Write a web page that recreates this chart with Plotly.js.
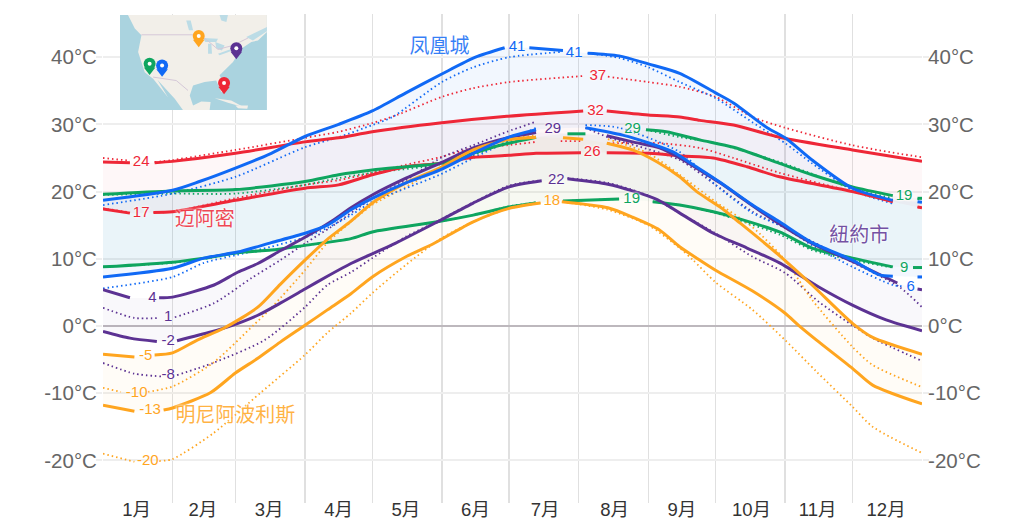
<!DOCTYPE html>
<html><head><meta charset="utf-8">
<script src="https://cdn.plot.ly/plotly-3.0.1.min.js"></script>
<style>html,body{margin:0;padding:0;background:#fff}</style></head>
<body><div id="chart" style="width:1024px;height:526px"></div>
<script>
const monthStarts=[0,31,59,90,120,151,181,212,243,273,304,334,365];
const monthMids=[15,44.5,74,105,135,166,197,228,258,289,318.5,349];
const monthLabels=['1月','2月','3月','4月','5月','6月','7月','8月','9月','10月','11月','12月'];
const tempTicks=[-20,-10,0,10,20,30,40];
const tempLabels=['-20°C','-10°C','0°C','10°C','20°C','30°C','40°C'];

const RED='#ee2737',GREEN='#0ea55f',BLUE='#1069f5',PURPLE='#5c3293',ORANGE='#ffa51f';

// Miami
const miaHighD=[0,12,null,23,31,59,90,105,120,150,180,214,null,224.5,243,257,266,281,301.5,334,365];
const miaHighV=[24.4,24.3,null,24.3,24.5,25.7,27.4,28,28.9,30.2,31.2,32,null,32,31.4,31.1,30.6,29.9,28.1,26.2,24.5];
const miaLowD=[0,12,null,22.5,31,59,90,105,120,135,150,165,181,193,213,null,224.5,243.6,258,272,287,301.5,334,352,null,363,365];
const miaLowV=[17.4,16.8,null,16.9,17,18.7,20.5,21,22.5,23.7,24.2,25.1,25.4,25.7,25.8,null,25.8,25.7,25.3,25,23.7,22.2,20,18.5,null,17.7,17.6];
const miaHighDotD=[0,12,null,23,31,59,90,105,120,131,151,165,181,214,null,225,243,257,273,289.5,304,334,365];
const miaHighDotV=[25,24.6,null,24.4,24.7,26.2,28,28.9,30.2,31.4,34.1,35.4,36.3,37.2,null,37.1,36.3,35.6,34.1,31.1,29.5,26.9,25.1];
const miaLowDotD=[0,12,null,22.5,31,59,90,105,120,135,150,165,180,193,null,204,214,null,225,248,266,281,301.5,334,352,null,363,365];
const miaLowDotV=[17.5,16.9,null,16.9,17,19,21,21.7,22.8,24,25.1,26.5,26.9,27.4,null,27.5,27.5,null,27.2,27.2,26.5,25,22.8,20,18.5,null,17.7,17.6];

// Los Angeles
const laHighD=[0,31,59,90,105,120,135,150,165,177,193,null,207,215,null,242,251,266,281,301.5,316,334,352,null,363,365];
const laHighV=[19.6,20.1,20.3,21.5,22.5,23.2,23.7,24.2,25.7,26.9,28.1,null,28.6,28.6,null,29.2,28.9,27.7,26.6,24.2,22.5,20.7,19.4,null,19,19];
const laLowD=[0,31,45,60,75,90,110.5,120,149,165,181,193,null,205,230,null,245,257,272,281,301.5,316,334,352,null,361,365];
const laLowV=[8.8,9.5,10.1,10.9,11.3,12,13,14,15.5,16.5,17.7,18.3,null,18.6,18.9,null,18.5,18,17,16.2,14,11.6,10.1,8.8,null,8.7,8.7];
const laHighDotD=[0,31,59,90,105,120,150,165,181,193,null,242,257,272,284,301.5,334,352,null,363,365];
const laHighDotV=[19.5,19.7,19.7,21,22,22.8,24,25.4,27.5,28.1,null,29.2,28.1,27.3,26.2,24.4,20.5,19,null,18.9,18.9];
const laLowDotD=[0,31,45,60,75,90,110.5,120,149,165,181,193,null,205,230,null,245,257,272,281,301.5,316,334,352,null,361,365];
const laLowDotV=[8.8,9.4,10,10.8,11.3,12,13,14,15.5,16.5,17.8,18.4,null,18.6,18.9,null,18.5,18,16.9,16,13.6,11.3,9.8,8.7,null,8.7,8.7];

// Phoenix
const phxHighD=[0,31,43,59,75,90,105,120,135,151,166,179,null,190,205,null,216,230,243,257,273,281,296,304,316,334,352,null,363,365];
const phxHighV=[18.7,20.2,21.5,23.5,25.7,28.2,30,32,34.7,37.5,40,41.4,null,41.4,41,null,40.6,40.2,39,37.6,34.7,33.2,29.5,28,24.7,20.5,18.7,null,18.5,18.4];
const phxLowD=[0,31,45,60,75,90,100,110.5,120,135,150,165,180,193,null,215,231.6,243.6,254,263,275,289.5,301.5,316,334,346,352,null,363,365];
const phxLowV=[7.3,8.6,10.1,11,12.4,13.8,15,17.3,19,21.3,23.2,25.7,28,29.2,null,29.5,28.4,27.2,25.9,24,21.4,18,15.5,12.4,9.8,7.6,7.4,null,7.3,7.3];
const phxHighDotD=[0,31,59,90,105,120,129,151,165,181,205,null,216,230,243,257,273,289.5,304,316,334,352,null,365];
const phxHighDotV=[18,19.7,22.2,26.6,28.1,29.9,31.1,36.3,38.5,40,40.8,null,40.6,39.9,38.5,36.3,33.9,30.3,27.2,24.2,20.2,18.2,null,18.2];
const phxLowDotD=[0,31,45,60,75,90,100,110.5,120,135,150,165,180,193,null,215,230,257,273,289.5,304,316,334,352,357];
const phxLowDotV=[5.6,7.3,9.4,10.6,11.8,13.2,14.6,16.5,18.5,20.5,22.5,25,27.4,29.5,null,29.9,29.5,25.9,21,16.8,14.6,12,8.8,6.1,5.9];

// New York
const nyHighD=[0,12,null,25,31,49.5,60,69,79,90,101.5,110.5,120,135,150,165,180,193,null,224.5,236,248,257,266,275,287,300,316,334,354,null,363,365];
const nyHighV=[5.4,4.2,null,4.2,4.3,6.1,8,9.3,11.2,13.2,15.5,17.6,19.5,22,24.2,26.5,28,28.8,null,28.3,27.4,26.5,25,23.2,21.3,18.5,15.5,12.3,9.6,6.4,null,5.5,5.4];
const nyLowD=[0,12,24,null,33,48,56,69,79,90,100,110.5,129,149,165,181,195.5,null,207,225,236,247,260,272,287,301.5,319,334,349,365];
const nyLowV=[-0.8,-1.8,-2.3,null,-2.2,-0.9,-0.1,1.6,3.4,5.5,7.4,9.3,12.1,15.5,18.3,20.7,21.6,null,21.9,21.1,20.1,18.8,16.2,13.8,11.6,9.4,5.8,3.1,0.9,-0.7];
const nyHighDotD=[0,14,25,null,32,49.5,66,79,91,101.5,120,135,151,165,180,193,null,215,225,257,273,289.5,304,334,355,365];
const nyHighDotV=[2.7,1.2,1.2,null,1.3,3.4,7.1,9.8,12.5,14.7,19,21.7,25.1,26.9,28.9,30.4,null,29.5,28.1,24.7,21,17,14.6,9.5,5.8,2.8];
const nyLowDotD=[0,14,26,null,33,49,72,90,100,110.5,120,135,149,165,181,195.5,null,207,225,243,257,273,289.5,304,319,334,343,365];
const nyLowDotV=[-5.5,-7.1,-7.5,null,-7.3,-5.5,-2.1,2.8,6.1,8,10.1,13.3,15.6,18.4,20.9,21.7,null,22,21.3,19.4,16.8,13.8,10.3,7.9,3.6,0.1,-1.8,-5.2];

// Minneapolis
const mnHighD=[0,14,null,23,31,42,54,69,79,90,100,110.5,120,135,150,165,180,193,null,205,214,null,224.5,236,247,257,264.6,275,284,300,316,334,343,365];
const mnHighV=[-4.2,-4.6,null,-4.3,-4,-2.1,-0.3,2.8,6.2,9.8,12.9,15.6,18.3,21.3,23.5,26.2,27.7,28.1,null,28,27.8,null,27.2,26.2,24.4,22.2,20,17.7,15.3,10.9,6.1,0.4,-1.7,-4.2];
const mnLowD=[0,14,null,27,31,48,59,69,79,90,100,110.5,120,135,147,165,181,195,null,204.5,225,236,248,257,264.6,273,289.5,304,310,318,334,343,365];
const mnLowV=[-11.8,-12.7,null,-12.5,-12.2,-9.9,-7,-4.8,-2.4,0.1,2.4,4.8,7.3,10.3,12.2,15.5,17.5,18.3,null,18.5,17.6,16.2,14.3,11.8,10.1,8.3,5.2,1.9,0.1,-2.1,-6.3,-8.8,-11.6];
const mnHighDotD=[0,8,null,20,31,49,67,75,90,100,110.5,120,135,150,165,180,193,null,225,243,257,273,289.5,304,316,334,343,365];
const mnHighDotV=[-9.2,-9.8,null,-9.8,-9,-5.5,0.1,2.7,8.3,12.4,15.5,18,20.7,23.5,25.9,27.7,28.4,null,27.8,25.7,22.5,18.5,14.7,9.8,3.9,-3.1,-5.8,-9.1];
const mnLowDotD=[0,14,null,25,31,49,70,90,100,110.5,120,135,151,165,181,195,null,204.5,225,243,257,263,273,289.5,304,318,334,343,365];
const mnLowDotV=[-19,-20.2,null,-20.1,-19.8,-16,-10,-4.3,-1,1.9,4.9,9.1,13.1,15.5,17.5,18.3,null,18.5,17.3,15,11.6,9.8,6.5,2.4,-2.1,-6.8,-12,-15,-18.9];

// value labels
const miaLabelD=[17,17,220.5,219.5,218], miaLabelV=[24.3,16.8,37.2,32,25.9], miaLabelT=['24','17','37','32','26'];
const laLabelD=[236,235.6,357,357], laLabelV=[29.3,18.9,19.3,8.6], laLabelT=['29','19','19','9'];
const phxLabelD=[184.5,210,360], phxLabelV=[41.5,40.6,5.7], phxLabelT=['41','41','6'];
const nyLabelD=[22,29,29,29,200.5,202], nyLabelV=[4.2,1.3,-2.2,-7.4,29.3,21.7], nyLabelT=['4','1','-2','-8','29','22'];
const mnLabelD=[19,15,21,20,200], mnLabelV=[-4.5,-10,-12.6,-20.2,18.5], mnLabelT=['-5','-10','-13','-20','18'];

const cityNames=['凤凰城','迈阿密','明尼阿波利斯','紐約市'];
const cityNameD=[150,45.4,59,337];
const cityNameV=[41.4,15.6,-13.5,13.2];
const cityNameC=[BLUE,RED,ORANGE,PURPLE];

// locator map (longitude / latitude)
const mapLon=[-133.6,-58.2], mapLat=[17,55.4];
const landLon=[-129.5,-126,-122.6,-124.3,-120.9,-116.6,-109,-114.4,-105.5,-101.3,-87.6,-87.1,-91.9,-96.1,-97.8,-96.1,-90.2,-84.2,-81.6,-79,-82.5,-75.6,-71.4,-66.2,-62.8,-58.2,-58.2];
const landLat=[55.4,49.9,47.2,40.4,32.3,29.6,22.2,29.2,21.5,17,17,20.2,20.4,18.8,22.9,26.9,28.3,28.9,24.2,25.3,31,36.4,41.8,44.5,45.1,48.5,55.4];
const cubaLon=[-85,-76.5,-70,-78.2], cubaLat=[21.8,20.8,18.1,19.9];
const haitiLon=[-74.4,-67.9,-68.3,-73], haitiLat=[18.8,18.8,17.5,17.7];
const lakeLon=[[-91,-83.3,-84.2,-89.8],[-88.4,-86.7,-86.4,-88.4],[-84.7,-79.9,-81.3,-84.2],[-83.3,-77.3,-76.8,-82.5],[-99.6,-97.3,-96.1,-98.2],[-82.5,-78.2,-79,-81.6],[-68.8,-58.2,-58.2,-65.4]];
const lakeLat=[[46.1,45.8,44.5,44.5],[43.8,43.8,39.7,39.7],[44.5,43.1,41.1,42],[39.7,41.5,40.7,39.1],[53.2,53.2,49.2,49.2],[55.4,55.4,52.6,53.2],[46.5,50.5,48.8,45.1]];
const borderLon=[[-122.6,-95.6,-89.8,-83.3,-75.6,-67.9],[-116.6,-111.5,-104.7,-98.7]];
const borderLat=[[47.4,47.4,45.8,41.5,43.1,46.1],[30.3,29.6,28.9,24.9]];
const pinLon=[-93.2,-73.9,-118.4,-112,-80.2];
const pinLat=[46.9,42,35.7,35,27.9];
const pinTipLat=[44.4,39.5,33.2,32.5,25.4];
const pinColors=[ORANGE,PURPLE,GREEN,BLUE,RED];

function rgba(h,a){const n=parseInt(h.slice(1),16);return `rgba(${n>>16},${(n>>8)&255},${n&255},${a})`;}
const traces=[];
function band(lD,lV,hD,hV,c,a){
  const common={mode:'lines',connectgaps:true,hoverinfo:'skip',showlegend:false};
  traces.push({...common,x:lD,y:lV,line:{width:0,shape:'spline',smoothing:0.5}});
  traces.push({...common,x:hD,y:hV,line:{width:0,shape:'spline',smoothing:0.5},fill:'tonexty',fillcolor:rgba(c,a)});
}
function line(d,v,c,dotted){
  traces.push({x:d,y:v,mode:'lines',hoverinfo:'skip',showlegend:false,
    line:{color:c,width:dotted?1.8:3,dash:dotted?'1.5px,3px':'solid',shape:'spline',smoothing:0.7}});
}
function labels(d,v,t,c,size){
  traces.push({x:d,y:v,text:t,mode:'text',textposition:'middle center',cliponaxis:false,hoverinfo:'skip',showlegend:false,
    textfont:{color:c,size:size,family:'"Liberation Sans","Noto Sans CJK SC",sans-serif',shadow:'0 0 3px #fff, 0 0 3px #fff'}});
}
band(phxLowD,phxLowV,phxHighD,phxHighV,BLUE,0.055);
band(laLowD,laLowV,laHighD,laHighV,GREEN,0.03);
band(miaLowD,miaLowV,miaHighD,miaHighV,RED,0.035);
band(nyLowD,nyLowV,nyHighD,nyHighV,PURPLE,0.035);
band(mnLowD,mnLowV,mnHighD,mnHighV,ORANGE,0.035);
[[miaHighDotD,miaHighDotV,RED],[miaLowDotD,miaLowDotV,RED],[laHighDotD,laHighDotV,GREEN],[laLowDotD,laLowDotV,GREEN],
 [nyHighDotD,nyHighDotV,PURPLE],[nyLowDotD,nyLowDotV,PURPLE],[mnHighDotD,mnHighDotV,ORANGE],[mnLowDotD,mnLowDotV,ORANGE],
 [phxHighDotD,phxHighDotV,BLUE],[phxLowDotD,phxLowDotV,BLUE]].forEach(s=>line(s[0],s[1],s[2],true));
[[miaHighD,miaHighV,RED],[miaLowD,miaLowV,RED],[laHighD,laHighV,GREEN],[laLowD,laLowV,GREEN],
 [nyHighD,nyHighV,PURPLE],[nyLowD,nyLowV,PURPLE],[mnHighD,mnHighV,ORANGE],[mnLowD,mnLowV,ORANGE],
 [phxHighD,phxHighV,BLUE],[phxLowD,phxLowV,BLUE]].forEach(s=>line(s[0],s[1],s[2],false));
labels(miaLabelD,miaLabelV,miaLabelT,RED,15);
labels(laLabelD,laLabelV,laLabelT,GREEN,15);
labels(phxLabelD,phxLabelV,phxLabelT,BLUE,15);
labels(nyLabelD,nyLabelV,nyLabelT,PURPLE,15);
labels(mnLabelD,mnLabelV,mnLabelT,ORANGE,15);
cityNames.forEach((n,i)=>labels([cityNameD[i]],[cityNameV[i]],[n],rgba(cityNameC[i],0.85),20));
// right-hand axis
traces.push({x:[0,365],y:[0,0],yaxis:'y2',mode:'lines',line:{width:0},hoverinfo:'skip',showlegend:false});
// locator map
const onMap={xaxis:'x3',yaxis:'y3',hoverinfo:'skip',showlegend:false};
traces.push({...onMap,x:[mapLon[0],mapLon[1],mapLon[1],mapLon[0]],y:[mapLat[0],mapLat[0],mapLat[1],mapLat[1]],fill:'toself',fillcolor:'#aad3df',mode:'none'});
traces.push({...onMap,x:landLon,y:landLat,fill:'toself',fillcolor:'#f2efe9',mode:'none'});
traces.push({...onMap,x:cubaLon,y:cubaLat,fill:'toself',fillcolor:'#f2efe9',mode:'none'});
traces.push({...onMap,x:haitiLon,y:haitiLat,fill:'toself',fillcolor:'#f2efe9',mode:'none'});
lakeLon.forEach((l,i)=>traces.push({...onMap,x:l,y:lakeLat[i],fill:'toself',fillcolor:'#bcdce6',mode:'none'}));
borderLon.forEach((l,i)=>traces.push({...onMap,x:l,y:borderLat[i],mode:'lines',line:{color:'#d5c8d8',width:1}}));
traces.push({...onMap,x:pinLon,y:pinTipLat,mode:'markers',marker:{symbol:'triangle-down',size:10,color:pinColors}});
traces.push({...onMap,x:pinLon,y:pinLat,mode:'markers',marker:{symbol:'circle',size:12,color:pinColors}});
traces.push({...onMap,x:pinLon,y:pinLat,mode:'markers',marker:{symbol:'circle',size:4,color:'#fff'}});

const yRange=[-26.34,46.43];
const yAxisCommon={range:yRange,tickvals:tempTicks,ticktext:tempLabels,ticks:'outside',ticklen:6,tickcolor:'#eeeeee',tickwidth:2,
  tickfont:{size:20.5,color:'#666666',family:'"Liberation Sans",sans-serif'},ticklabelstandoff:-5,fixedrange:true};
const layout={width:1024,height:526,margin:{l:103,r:101.6,t:14,b:23,pad:0},paper_bgcolor:'#fff',plot_bgcolor:'#fff',showlegend:false,
  xaxis:{range:[0,365],tickmode:'array',tickvals:monthMids,ticktext:monthLabels,showgrid:false,zeroline:false,showline:false,ticks:'',
    tickfont:{size:18.5,color:'#333333',family:'"Liberation Sans","Noto Sans CJK SC",sans-serif'},ticklabelstandoff:-7,
    minor:{tickmode:'array',tickvals:monthStarts.slice(1,12),showgrid:true,gridcolor:'#e0e0e0',gridwidth:1.5,ticks:''},fixedrange:true},
  yaxis:{...yAxisCommon,side:'left',showgrid:true,gridcolor:'#eeeeee',gridwidth:2,zeroline:true,zerolinecolor:'#bdb8bd',zerolinewidth:2},
  yaxis2:{...yAxisCommon,side:'right',overlaying:'y',showgrid:false,zeroline:false},
  xaxis3:{domain:[17/819.4,164/819.4],range:mapLon,visible:false,anchor:'y3',fixedrange:true},
  yaxis3:{domain:[393/489,488/489],range:mapLat,visible:false,anchor:'x3',fixedrange:true}
};
Plotly.newPlot('chart',traces,layout,{staticPlot:true,displayModeBar:false});
</script></body></html>
